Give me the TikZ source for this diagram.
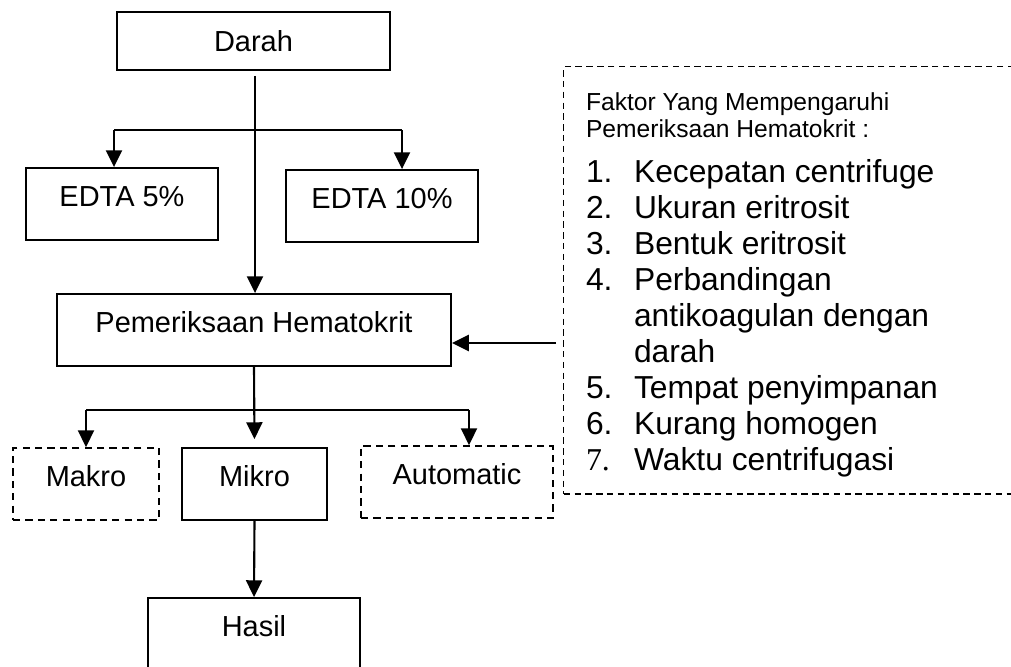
\documentclass[tikz,border=0pt]{standalone}
\usepackage{fontspec}
\setmainfont{Liberation Sans}
\newfontfamily\numfont{Liberation Serif}
\usetikzlibrary{arrows.meta,positioning,calc}

\begin{document}
\begin{tikzpicture}[x=0.025cm,y=-0.025cm,>={Triangle[width=0.4cm,length=0.42cm]},
  line width=1.5pt,
  flow box/.style={rectangle,draw,line width=1.3pt,inner sep=0pt,
    minimum height=1.8cm,text height=0.75em,text depth=0.45em,
    font=\fontsize{20.6}{24}\selectfont},
  dash box/.style={flow box,line width=1.2pt,dash pattern=on 0.18cm off 0.13cm},
  note box/.style={rectangle,draw,line width=1pt,dash pattern=on 0.16cm off 0.11cm,
    anchor=north west,inner sep=0pt},
  note text/.style={anchor=north west,align=left,inner sep=0pt,text width=10cm}]
    \path[use as bounding box,clip] (0,0) rectangle (1011,666);

    \node[flow box,minimum width=6.825cm,minimum height=1.45cm,text height=,text depth=] (darah) at (253.5,41) {Darah};
    \node[flow box,minimum width=4.8cm] (edta5) at (122,204) {EDTA 5\%};
    \node[flow box,minimum width=4.8cm] (edta10) at (382,206) {EDTA 10\%};
    \node[flow box,minimum width=9.85cm] (periksa) at (254,330) {Pemeriksaan Hematokrit};
    \node[dash box,minimum width=3.65cm] (makro) at (86,484) {Makro};
    \node[flow box,minimum width=3.63cm] (mikro) at (254.5,484) {Mikro};
    \node[dash box,minimum width=4.8cm] (auto) at (457,482) {Automatic};
    \node[flow box,minimum width=5.3cm] (hasil) at (254,634) {Hasil};

    % factor frame and its list
    \node[note box,minimum width=11.9cm,minimum height=10.675cm] (faktor) at (563,66) {};
    \node[note text] (faktorlist) at (585,92) {%
      {\fontsize{17.5}{19}\selectfont\spaceskip=0pt\xspaceskip=0pt
       Faktor Yang Mempengaruhi\\
       Pemeriksaan Hematokrit :\par}\vspace{6.5pt}
      {\fontsize{22.6}{25.6}\selectfont\spaceskip=0pt\xspaceskip=0pt
       \makebox[1.2cm][l]{1.}Kecepatan centrifuge\\
       \makebox[1.2cm][l]{2.}Ukuran eritrosit\\
       \makebox[1.2cm][l]{3.}Bentuk eritrosit\\
       \makebox[1.2cm][l]{4.}Perbandingan\\
       \hspace*{1.2cm}antikoagulan dengan\\
       \hspace*{1.2cm}darah\\
       \makebox[1.2cm][l]{5.}Tempat penyimpanan\\
       \makebox[1.2cm][l]{6.}Kurang homogen\\
       \makebox[1.2cm][l]{{\numfont 7.}}Waktu centrifugasi\par}};

    % split points
    \coordinate (toprow) at (255,130);
    \coordinate (topleft) at (114,130);
    \coordinate (topright) at (402,130);
    \coordinate (midleft) at (86,410);
    \coordinate (midright) at (469,410);
    \coordinate (fkrow) at (0,343);

    \draw[->] ($(darah.south -| toprow)+(0,5)$) -- (periksa.north -| toprow);
    \draw (topleft) -- (topright);
    \draw[->] (topleft) -- (topleft |- edta5.north);
    \draw[->] (topright) -- (topright |- edta10.north);

    \draw[->,shorten >=0.2cm] (periksa.south) -- (mikro.north);
    \draw (midleft) -- (midright);
    \draw[->] (midleft) -- (makro.north);
    \draw[->] (midright) -- (midright |- auto.north);
    \draw[->] (mikro.south) -- (hasil.north);

    \draw[->,shorten <=0.175cm] (faktor.west |- fkrow) -- (periksa.east |- fkrow);
\end{tikzpicture}
\end{document}
